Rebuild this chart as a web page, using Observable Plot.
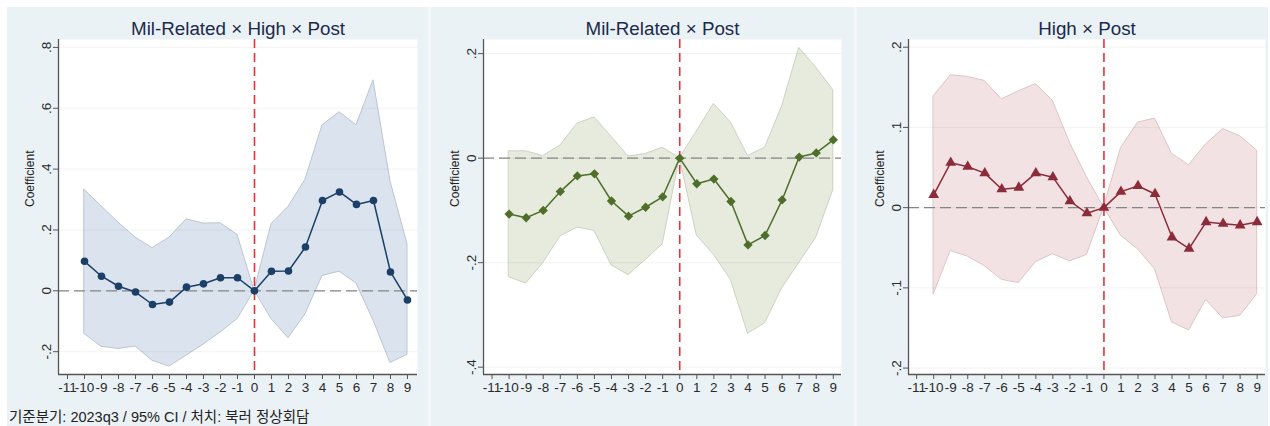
<!DOCTYPE html>
<html><head><meta charset="utf-8">
<script src="https://cdn.jsdelivr.net/npm/d3@7"></script>
<script src="https://cdn.jsdelivr.net/npm/@observablehq/plot@0.6"></script>
<style>
html,body{margin:0;padding:0;background:#fff;width:1270px;height:426px;overflow:hidden;font-family:"Liberation Sans",Arial,sans-serif;}
#bg{position:absolute;left:7px;top:7px;width:1261px;height:419px;background:#ebf2f6;}
.sep{position:absolute;top:7px;width:3px;height:419px;background:#f4f8fa;}
.panel{position:absolute;top:7px;}
.panel svg{display:block;}
#note{position:absolute;left:9px;top:409px;font-size:14.5px;line-height:16px;color:#222;white-space:nowrap;font-family:"Liberation Sans","Noto Sans CJK KR",sans-serif;}
</style>
</head><body>
<div id="bg"></div>
<div class="sep" style="left:428px"></div>
<div class="sep" style="left:854px"></div>
<div id="p1" class="panel" style="left:7px"></div>
<div id="p2" class="panel" style="left:430px"></div>
<div id="p3" class="panel" style="left:857px"></div>
<div id="note"></div>
<script>
// ---- data ----
const periods = [-10,-9,-8,-7,-6,-5,-4,-3,-2,-1,0,1,2,3,4,5,6,7,8,9];
const xTickValues = [-11,-10,-9,-8,-7,-6,-5,-4,-3,-2,-1,0,1,2,3,4,5,6,7,8,9];
const titles = ["Mil-Related × High × Post", "Mil-Related × Post", "High × Post"];
const yLabel = "Coefficient";
const note = "기준분기: 2023q3 / 95% CI / 처치: 북러 정상회담";

const coef1 = [0.097,0.048,0.015,-0.004,-0.045,-0.037,0.012,0.023,0.043,0.043,0,0.064,0.065,0.144,0.297,0.325,0.284,0.297,0.062,-0.030];
const hi1   = [0.332,0.278,0.224,0.175,0.140,0.175,0.235,0.221,0.222,0.184,0,0.219,0.276,0.365,0.544,0.587,0.544,0.692,0.360,0.153];
const lo1   = [-0.142,-0.184,-0.191,-0.183,-0.230,-0.249,-0.213,-0.177,-0.137,-0.093,0,-0.093,-0.156,-0.077,0.049,0.063,0.024,-0.098,-0.237,-0.210];
const yTicks1 = [-0.2,0,0.2,0.4,0.6,0.8];

const coef2 = [-0.107,-0.114,-0.100,-0.064,-0.034,-0.030,-0.082,-0.111,-0.094,-0.074,0,-0.049,-0.040,-0.083,-0.166,-0.148,-0.080,0.002,0.010,0.035];
const hi2   = [0.013,0.013,0.004,0.024,0.066,0.078,0.041,0.003,0.008,0.020,0,0.051,0.104,0.068,0.004,0.020,0.099,0.211,0.173,0.130];
const lo2   = [-0.228,-0.240,-0.201,-0.150,-0.133,-0.139,-0.205,-0.224,-0.195,-0.165,0,-0.148,-0.185,-0.233,-0.336,-0.316,-0.249,-0.201,-0.152,-0.061];
const yTicks2 = [-0.4,-0.2,0,0.2];

const coef3 = [0.016,0.056,0.051,0.043,0.023,0.025,0.043,0.038,0.008,-0.007,0,0.020,0.027,0.017,-0.037,-0.051,-0.018,-0.020,-0.022,-0.018];
const hi3   = [0.139,0.165,0.163,0.158,0.135,0.145,0.154,0.133,0.081,0.038,0,0.074,0.106,0.111,0.067,0.053,0.079,0.098,0.089,0.071];
const lo3   = [-0.108,-0.054,-0.061,-0.073,-0.090,-0.094,-0.068,-0.058,-0.067,-0.059,0,-0.035,-0.052,-0.077,-0.143,-0.153,-0.115,-0.138,-0.135,-0.108];
const yTicks3 = [-0.2,-0.1,0,0.1,0.2];

// ---- drawing ----
const stataFmt = d => d === 0 ? "0" : String(+d.toFixed(3)).replace(/^(-?)0\./, "$1.");

function panel(cfg) {
  const data = periods.map((t, i) => ({t, c: cfg.coef[i], lo: cfg.lo[i], hi: cfg.hi[i]}));
  const [xmin] = cfg.xDomain;
  const [ymin] = cfg.yDomain;
  return Plot.plot({
    width: cfg.width, height: 396,
    marginLeft: cfg.ml, marginRight: cfg.mr, marginTop: 32, marginBottom: 29,
    style: {background: "transparent", fontFamily: "Liberation Sans, Arial, sans-serif", fontSize: "13.5px", color: "#2a2a2a", overflow: "visible"},
    x: {domain: cfg.xDomain},
    y: {domain: cfg.yDomain},
    marks: [
      Plot.frame({fill: "white", stroke: null}),
      Plot.areaY(data, {x: "t", y1: "lo", y2: "hi", fill: cfg.fill, stroke: cfg.edge, strokeWidth: 1}),
      Plot.gridY(cfg.yTicks, {stroke: "#000", strokeOpacity: 0.05}),
      Plot.ruleY([0], {stroke: "#858585", strokeDasharray: "11,5", strokeWidth: 1.3}),
      Plot.ruleX([0], {stroke: "#e8333c", strokeDasharray: "9,5", strokeWidth: 1.6}),
      Plot.line(data, {x: "t", y: "c", stroke: cfg.color, strokeWidth: 1.5}),
      Plot.dot(data, {x: "t", y: "c", fill: cfg.color, stroke: null, r: cfg.r, symbol: cfg.symbol}),
      Plot.axisX({ticks: xTickValues, tickFormat: d => String(d), tickSize: 5, tickPadding: 3, stroke: "#555", label: null}),
      Plot.axisY({ticks: cfg.yTicks, tickFormat: stataFmt, tickSize: 5, tickRotate: -90, tickPadding: 3, stroke: "#555", label: null}),
      Plot.ruleX([xmin], {stroke: "#555", strokeWidth: 1.3}),
      Plot.ruleY([ymin], {stroke: "#555", strokeWidth: 1.3}),
      Plot.text([cfg.title], {frameAnchor: "top", lineAnchor: "middle", dy: -11, fontSize: 18.8, fill: "#1c2a48"}),
      Plot.text([yLabel], {frameAnchor: "left", rotate: -90, dx: -28, fontSize: 12, fill: "#222"})
    ]
  });
}

document.getElementById("p1").append(panel({
  width: 423, ml: 51, mr: 13, xDomain: [-11.53, 9.59], yDomain: [-0.275, 0.826],
  yTicks: yTicks1, coef: coef1, lo: lo1, hi: hi1, title: titles[0],
  color: "#1b3f66", fill: "#dbe4ee", edge: "#bcc6d0", symbol: "circle", r: 3.8
}));
document.getElementById("p2").append(panel({
  width: 425, ml: 53, mr: 14, xDomain: [-11.5, 9.48], yDomain: [-0.414, 0.227],
  yTicks: yTicks2, coef: coef2, lo: lo2, hi: hi2, title: titles[1],
  color: "#4f6e2a", fill: "#e6ebde", edge: "#cdd2c3", symbol: "diamond2", r: 4.2
}));
document.getElementById("p3").append(panel({
  width: 413, ml: 51, mr: 5, xDomain: [-11.48, 9.49], yDomain: [-0.208, 0.2096],
  yTicks: yTicks3, coef: coef3, lo: lo3, hi: hi3, title: titles[2],
  color: "#8c2c3a", fill: "#f2e2e3", edge: "#dcc6c8", symbol: "triangle", r: 4
}));
document.getElementById("note").textContent = note;
</script>
</body></html>
